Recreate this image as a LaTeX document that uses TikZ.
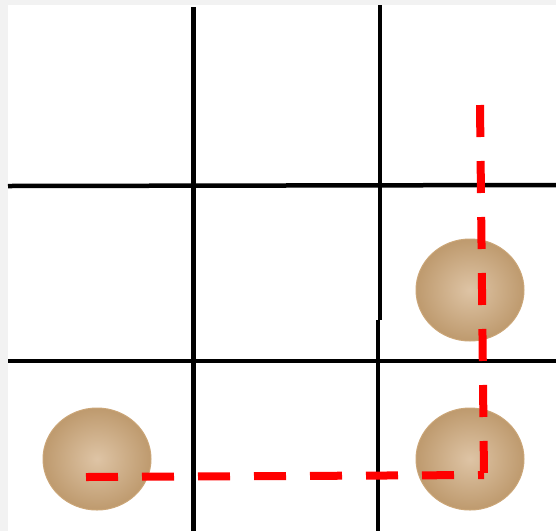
\documentclass[tikz,border=0pt]{standalone}
\usetikzlibrary{positioning}
\definecolor{bggray}{HTML}{F2F2F2}
\definecolor{ballin}{HTML}{DEC4A5}
\definecolor{ballout}{HTML}{BE9A6E}
\definecolor{ballrim}{HTML}{CBA678}
\tikzset{
  gridline/.style={line width=4.5pt, black},
  path/.style={line width=8pt, red, dash pattern=on 32pt off 24pt},
  ball/.style={shading=radial, inner color=ballin, outer color=ballout, draw=ballrim, line width=1pt}
}
\begin{document}
\begin{tikzpicture}[x=1pt,y=-1pt]
\fill[bggray] (0,0) rectangle (556,531);
\fill[white] (8,5) rectangle (556,531);
\useasboundingbox (0,0) rectangle (556,531);
% grid
\coordinate (v1t) at (193.5,7);   \coordinate (v1b) at (193.5,531);
\coordinate (v2t) at (380,5);   \coordinate (v2m) at (380,320);
\coordinate (v3m) at (378,320); \coordinate (v3b) at (378,531);
\coordinate (h1l) at (8,186);   \coordinate (h1r) at (556,185);
\coordinate (h2l) at (8,361);   \coordinate (h2r) at (556,361);
\draw[gridline] (v1t) -- (v1b);
\draw[gridline] (v2t) -- (v2m);
\draw[gridline] (v3m) -- (v3b);
\draw[gridline] (h1l) -- (h1r);
\draw[gridline] (h2l) -- (h2r);
% balls
\path[ball] (97,459) ellipse [x radius=54, y radius=51];
\path[ball] (470,290) ellipse [x radius=54, y radius=51];
\path[ball] (470,459) ellipse [x radius=54, y radius=51];
% red dashed path
\coordinate (pl) at (86,477);
\coordinate (pc) at (484,475);
\coordinate (pt) at (480,105);
\coordinate (pb) at (484,475);
\draw[path] (pl) -- (pc);
\draw[path] (pt) -- (pb);
\end{tikzpicture}
\end{document}
